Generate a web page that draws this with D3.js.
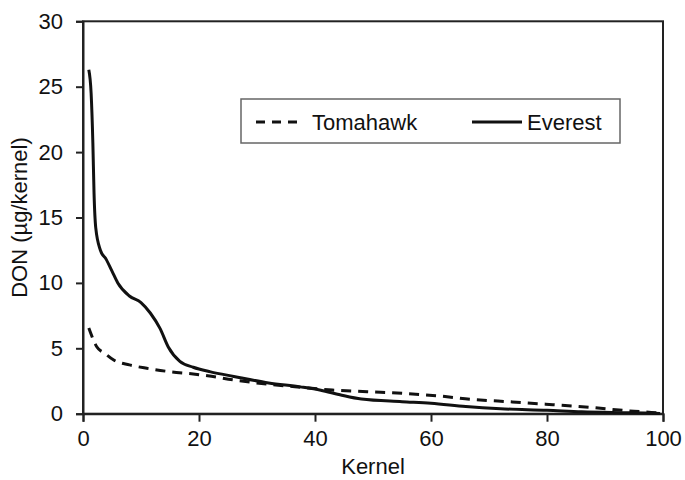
<!DOCTYPE html>
<html>
<head>
<meta charset="utf-8">
<script src="https://cdn.jsdelivr.net/npm/d3@7"></script>
<style>
  body { margin: 0; background: #fff; }
  text { font-family: "Liberation Sans", Arial, sans-serif; fill: #111; }
</style>
</head>
<body>
<div id="chart"></div>
<script>
// values (kernel rank -> DON)
const everestKernel = [1, 1.4, 1.7, 1.9, 2.2, 3, 4, 5, 6, 8, 10, 11.6, 13.3, 14.7, 16.7, 19, 22, 26, 32, 37.5, 41, 44.3, 48, 55, 60, 66, 72, 80, 86, 94, 99.5];
const everestDON    = [26.3, 24.5, 20.7, 16.9, 14.2, 12.5, 11.8, 10.9, 10.0, 9.0, 8.5, 7.7, 6.5, 5.1, 4.0, 3.55, 3.2, 2.85, 2.35, 2.05, 1.8, 1.45, 1.12, 0.92, 0.8, 0.55, 0.38, 0.26, 0.14, 0.07, 0.02];

const tomahawkKernel = [1, 2.4, 3.8, 5.3, 8, 11, 15, 19, 21.5, 26, 32, 37.5, 43, 49, 55, 61, 67, 74, 81, 87.4, 94.3, 98, 99.5];
const tomahawkDON    = [6.55, 5.1, 4.6, 4.1, 3.73, 3.47, 3.21, 3.04, 2.9, 2.58, 2.25, 2.02, 1.81, 1.68, 1.56, 1.37, 1.1, 0.9, 0.69, 0.49, 0.21, 0.1, 0.04];

const xTicks = [0, 20, 40, 60, 80, 100];
const yTicks = [0, 5, 10, 15, 20, 25, 30];

const W = 685, H = 480;
const margin = { left: 83, top: 21.3, right: 22, bottom: 66.3 };
const plotW = W - margin.left - margin.right;
const plotH = H - margin.top - margin.bottom;
const axisColor = "#222";
const fontSize  = 22;

const svg = d3.select("#chart")
  .append("svg")
  .attr("width", W)
  .attr("height", H);

const x = d3.scaleLinear().domain([0, 100]).range([margin.left, margin.left + plotW]);
const y = d3.scaleLinear().domain([0, 30]).range([margin.top + plotH, margin.top]);

// frame
svg.append("rect")
   .attr("x", x(0))
   .attr("y", y(30))
   .attr("width", x(100) - x(0))
   .attr("height", y(0) - y(30))
   .attr("fill", "none")
   .attr("stroke", axisColor)
   .attr("stroke-width", 2);

// axes
const xAxis = svg.append("g")
  .attr("transform", `translate(0,${y(0)})`)
  .call(d3.axisBottom(x).tickValues(xTicks).tickSize(8).tickPadding(9));
const yAxis = svg.append("g")
  .attr("transform", `translate(${x(0)},0)`)
  .call(d3.axisLeft(y).tickValues(yTicks).tickSize(7).tickPadding(13));

[xAxis, yAxis].forEach(g => {
  g.select(".domain").attr("stroke", axisColor).attr("stroke-width", 2);
  g.selectAll(".tick line").attr("stroke", axisColor).attr("stroke-width", 2);
  g.selectAll(".tick text")
   .attr("font-size", fontSize)
   .attr("font-family", "Liberation Sans, Arial, sans-serif")
   .attr("fill", "#111");
});

// axis titles
svg.append("text")
   .attr("x", x(50))
   .attr("y", 474)
   .attr("text-anchor", "middle")
   .attr("font-size", fontSize)
   .text("Kernel");

svg.append("text")
   .attr("transform", `translate(27,${(y(0) + y(30)) / 2}) rotate(-90)`)
   .attr("text-anchor", "middle")
   .attr("font-size", fontSize)
   .text("DON (µg/kernel)");

// lines
const line = d3.line()
  .x(d => x(d[0]))
  .y(d => y(d[1]))
  .curve(d3.curveMonotoneX);

svg.append("path")
   .datum(tomahawkKernel.map((k, i) => [k, tomahawkDON[i]]))
   .attr("d", line)
   .attr("fill", "none")
   .attr("stroke", "#111")
   .attr("stroke-width", 3)
   .attr("stroke-dasharray", "10 7");

svg.append("path")
   .datum(everestKernel.map((k, i) => [k, everestDON[i]]))
   .attr("d", line)
   .attr("fill", "none")
   .attr("stroke", "#111")
   .attr("stroke-width", 3);

// legend
const legend = svg.append("g");
legend.append("rect")
      .attr("x", 241)
      .attr("y", 99)
      .attr("width", 379)
      .attr("height", 44)
      .attr("fill", "#fff")
      .attr("stroke", "#666")
      .attr("stroke-width", 1.5);

[
  { name: "Tomahawk", x1: 256, x2: 304, tx: 312, dash: "9 7" },
  { name: "Everest",  x1: 472, x2: 522, tx: 527, dash: null }
].forEach(s => {
  legend.append("line")
        .attr("x1", s.x1)
        .attr("x2", s.x2)
        .attr("y1", 122)
        .attr("y2", 122)
        .attr("stroke", "#111")
        .attr("stroke-width", 3)
        .attr("stroke-dasharray", s.dash);
  legend.append("text")
        .attr("x", s.tx)
        .attr("y", 129.5)
        .attr("font-size", fontSize)
        .text(s.name);
});
</script>
</body>
</html>
